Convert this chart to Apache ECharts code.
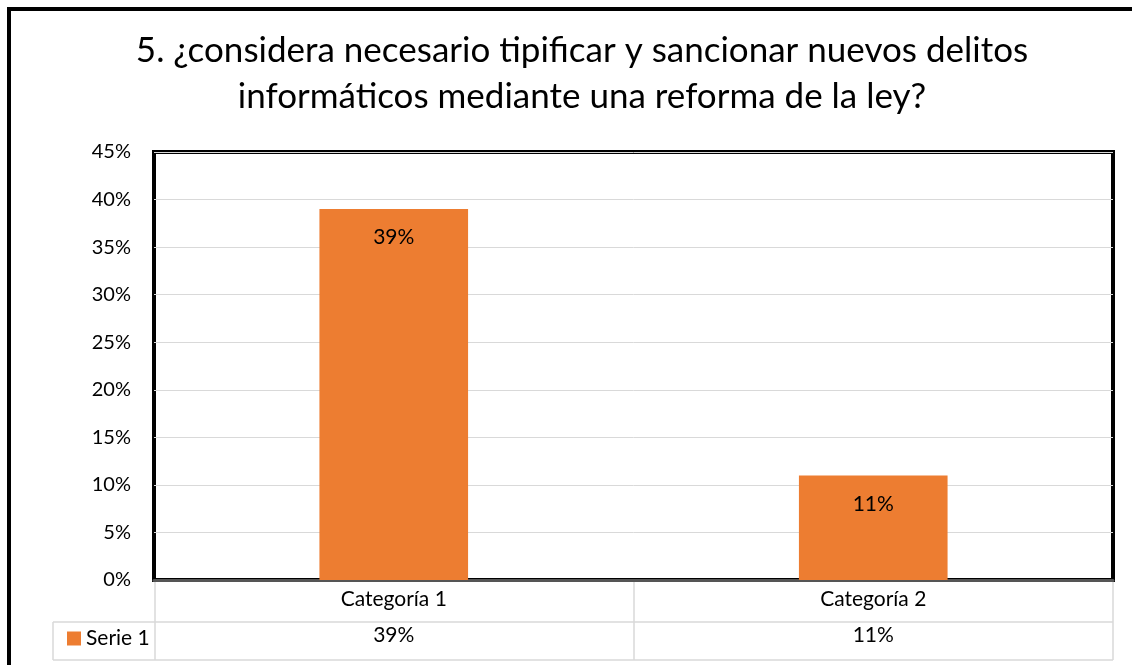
<!DOCTYPE html>
<html>
<head>
<meta charset="utf-8">
<script src="https://cdn.jsdelivr.net/npm/echarts@6/dist/echarts.min.js"></script>
<style>
html,body{margin:0;padding:0;background:#fff;}
#main{width:1132px;height:665px;}
</style>
</head>
<body>
<div id="main"></div>
<script>
var titleText = '5. ¿considera necesario tipificar y sancionar nuevos delitos\ninformáticos mediante una reforma de la ley?';
var categories = ['Categoría 1', 'Categoría 2'];
var serieName = 'Serie 1';
var serieValues = [0.39, 0.11];
var yTicks = [0, 0.05, 0.10, 0.15, 0.20, 0.25, 0.30, 0.35, 0.40, 0.45];

(function(){
	var myChart = echarts.init(document.getElementById('main'));
	var font = 'Lato';
	var pct = function(v){ return Math.round(v * 100) + '%'; };
	var grey = '#d9d9d9';
	var option = {
		backgroundColor: '#fff',
		textStyle: { fontFamily: font },
		title: {
			text: titleText,
			left: 577,
			top: 23,
			textAlign: 'center',
			textStyle: {
				fontFamily: font,
				fontSize: 35,
				fontWeight: 'normal',
				color: '#000',
				lineHeight: 46
			}
		},
		legend: {
			data: [serieName],
			left: 62,
			top: 623,
			icon: 'rect',
			itemWidth: 14,
			itemHeight: 14,
			itemGap: 5,
			textStyle: { fontFamily: font, fontSize: 21, color: '#000' }
		},
		grid: {
			left: 154,
			right: 19,
			top: 152,
			bottom: 85,
			show: true,
			borderColor: '#000',
			borderWidth: 4,
			containLabel: false
		},
		xAxis: [
			{
				type: 'category',
				data: categories,
				position: 'bottom',
				axisLine: { show: true, lineStyle: { color: '#555', width: 3 } },
				axisTick: { show: false },
				axisLabel: { fontFamily: font, fontSize: 21, color: '#000', margin: 9 }
			},
			{
				type: 'category',
				data: categories,
				position: 'bottom',
				offset: 36,
				axisLine: { show: false },
				axisTick: { show: false },
				axisLabel: {
					fontFamily: font, fontSize: 21, color: '#000', margin: 9,
					formatter: function(v, i){ return pct(serieValues[i]); }
				}
			}
		],
		yAxis: {
			type: 'value',
			min: yTicks[0],
			max: yTicks[yTicks.length - 1],
			interval: 0.05,
			axisLine: { show: false },
			axisTick: { show: false },
			splitLine: { lineStyle: { color: grey, width: 1 } },
			axisLabel: {
				fontFamily: font, fontSize: 20, color: '#000', margin: 23,
				formatter: function(v){ return pct(v); }
			}
		},
		series: [
			{
				name: serieName,
				type: 'bar',
				barWidth: '31%',
				itemStyle: { color: '#ED7D31' },
				label: {
					show: true,
					position: 'insideTop',
					distance: 18,
					fontFamily: font,
					fontSize: 21,
					color: '#000',
					formatter: function(p){ return pct(p.value); }
				},
				data: serieValues
			}
		],
		graphic: [
			{ type: 'rect', shape: { x: 9, y: 9, width: 1200, height: 700 }, style: { fill: 'none', stroke: '#000', lineWidth: 4 }, silent: true },
			{ type: 'line', shape: { x1: 53, y1: 622, x2: 1113, y2: 622 }, style: { stroke: grey, lineWidth: 1.5 } },
			{ type: 'line', shape: { x1: 53, y1: 660, x2: 1113, y2: 660 }, style: { stroke: grey, lineWidth: 1.5 } },
			{ type: 'line', shape: { x1: 53, y1: 622, x2: 53, y2: 660 }, style: { stroke: grey, lineWidth: 1.5 } },
			{ type: 'line', shape: { x1: 155, y1: 582, x2: 155, y2: 660 }, style: { stroke: grey, lineWidth: 1.5 } },
			{ type: 'line', shape: { x1: 634, y1: 582, x2: 634, y2: 660 }, style: { stroke: grey, lineWidth: 1.5 } },
			{ type: 'line', shape: { x1: 1113, y1: 582, x2: 1113, y2: 660 }, style: { stroke: grey, lineWidth: 1.5 } }
		]
	};
	myChart.setOption(option);
})();
</script>
</body>
</html>
